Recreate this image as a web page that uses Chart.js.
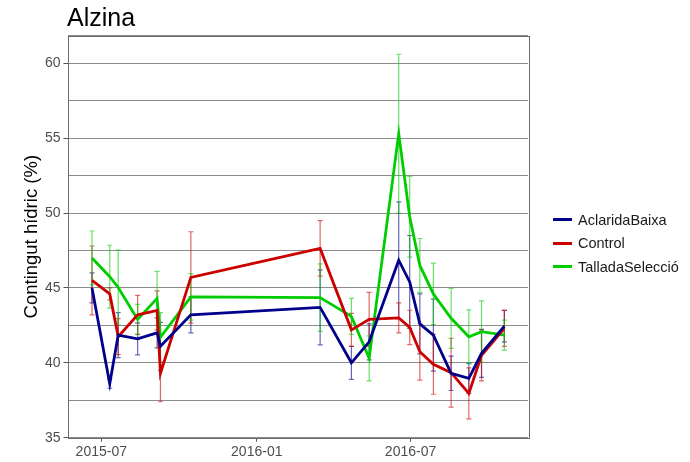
<!DOCTYPE html>
<html>
<head>
<meta charset="utf-8">
<script src="https://cdn.jsdelivr.net/npm/chart.js@4/dist/chart.umd.min.js"></script>
<style>
  html, body { margin: 0; padding: 0; background: #fff; }
  #wrap { position: relative; width: 690px; height: 462px; font-family: 'Liberation Sans', Arial, sans-serif; }
  #titol { position: absolute; left: 67px; top: 3px; font-size: 25px; color: #000; }
  #llegenda { position: absolute; left: 553px; top: 208px; font-size: 14.5px; color: #1a1a1a; }
  .item { display: flex; align-items: center; height: 23.5px; }
  .clau { width: 19px; height: 3px; margin-right: 6px; }
</style>
</head>
<body>
<div id="wrap">
  <canvas id="grafic" width="690" height="462"></canvas>
  <div id="titol">Alzina</div>
  <div id="llegenda"></div>
</div>
<script>
// Dates de mostreig
const dates = ['2015-06-20', '2015-07-11', '2015-07-21', '2015-08-13', '2015-09-05', '2015-09-09', '2015-10-15',
    '2016-03-16', '2016-04-22', '2016-05-13', '2016-06-17', '2016-06-30', '2016-07-12', '2016-07-28',
    '2016-08-18', '2016-09-08', '2016-09-23', '2016-10-20'];

// Tractaments
const tractaments = ['AclaridaBaixa', 'Control', 'TalladaSelecció'];

// Contingut hídric mitjà (%) per tractament
const aclaridaBaixa = [45.0, 38.6, 41.85, 41.6, 42.0, 41.1, 43.2, 43.7, 40.0, 41.4, 46.85, 45.4, 42.6, 41.85, 39.3, 38.96, 40.63, 42.45];
const control = [45.5, 44.6, 41.75, 43.2, 43.5, 39.3, 45.7, 47.64, 42.2, 42.9, 43.0, 42.36, 40.74, 39.9, 39.34, 37.96, 40.5, 42.3];
const talladaSeleccio = [47.0, 45.75, 45.03, 42.9, 44.3, 41.7, 44.4, 44.35, 43.1, 40.3, 55.3, 49.75, 46.5, 44.6, 42.97, 41.74, 42.08, 41.85];

// Barres d'error (desviació) per tractament
const errAclarida = [1.0, 0.3, 1.5, 1.07, 1.0, 1.6, 1.2, 2.5, 1.1, 1.2, 3.9, 3.1, 2.0, 2.4, 1.15, 1.0, 1.6, 1.05];
const errControl = [2.3, 0.4, 1.2, 1.3, 1.3, 1.9, 3.05, 1.85, 1.1, 1.8, 1.0, 1.15, 1.9, 2.0, 2.3, 1.7, 1.7, 1.2];
const errTallada = [1.8, 2.1, 2.5, 1.0, 1.8, 1.65, 1.55, 2.25, 1.2, 1.5, 5.3, 2.7, 1.8, 2.05, 2.0, 1.8, 2.05, 1.0];

// Etiquetes dels eixos
const xTickLabels = ['2015-07', '2016-01', '2016-07'];
const yTickLabels = [35, 40, 45, 50, 55, 60];
const xLimits = ['2015-05-22', '2016-11-17'];
const yLimits = [35, 61.84];

const BLAU = '#00008B'; const VERMELL = '#CD0000'; const VERD = '#00CD00';
const colors = [BLAU, VERMELL, VERD];
const colorsErr = ['rgba(0,0,139,0.6)', 'rgba(205,0,0,0.6)', 'rgba(0,205,0,0.6)'];
const FONT = "'Liberation Sans', Arial, sans-serif";

// Dies des del 2015-07-01
function dia(s) { return (Date.parse(s) - Date.parse('2015-07-01')) / 86400000; }

const series = [aclaridaBaixa, control, talladaSeleccio];
const errors = [errAclarida, errControl, errTallada];

// Barres d'error dibuixades amb les escales del gràfic
const errorBars = {
    id: 'errorBars',
    beforeDatasetsDraw(chart) {
        const { ctx, scales: { x, y } } = chart;
        ctx.save();
        ctx.lineWidth = 1.2;
        series.forEach((vals, s) => {
            ctx.strokeStyle = colorsErr[s];
            vals.forEach((v, i) => {
                const px = x.getPixelForValue(dia(dates[i]));
                const top = y.getPixelForValue(v + errors[s][i]);
                const bot = y.getPixelForValue(v - errors[s][i]);
                ctx.beginPath();
                ctx.moveTo(px, top); ctx.lineTo(px, bot);
                ctx.moveTo(px - 2.5, top); ctx.lineTo(px + 2.5, top);
                ctx.moveTo(px - 2.5, bot); ctx.lineTo(px + 2.5, bot);
                ctx.stroke();
            });
        });
        ctx.restore();
    }
};

// Vora del panell
const panelBorder = {
    id: 'panelBorder',
    afterDatasetsDraw(chart) {
        const { ctx, chartArea: a } = chart;
        ctx.save();
        ctx.strokeStyle = '#6b6b6b';
        ctx.lineWidth = 1;
        ctx.strokeRect(Math.round(a.left) + 0.5, Math.round(a.top) + 0.5, Math.round(a.right - a.left), Math.round(a.bottom - a.top));
        ctx.restore();
    }
};

new Chart(document.getElementById('grafic'), {
    type: 'line',
    data: {
        datasets: series.map((vals, s) => ({
            label: tractaments[s],
            data: vals.map((v, i) => ({ x: dia(dates[i]), y: v })),
            borderColor: colors[s],
            backgroundColor: colors[s],
            borderWidth: 2.8,
            pointRadius: 0,
            tension: 0
        }))
    },
    options: {
        responsive: false,
        animation: false,
        layout: { padding: { top: 35.7, right: 162, bottom: 0, left: 0 } },
        plugins: { legend: { display: false }, tooltip: { enabled: false } },
        scales: {
            x: {
                type: 'linear',
                min: dia(xLimits[0]),
                max: dia(xLimits[1]),
                afterBuildTicks: (scale) => { scale.ticks = xTickLabels.map(l => ({ value: dia(l + '-01') })); },
                afterFit: (scale) => { scale.height = 24.3; },
                ticks: {
                    autoSkip: false, maxRotation: 0, padding: 2,
                    color: '#4d4d4d', font: { family: FONT, size: 14 },
                    callback: (v) => { const i = xTickLabels.findIndex(l => dia(l + '-01') === v); return i >= 0 ? xTickLabels[i] : ''; }
                },
                grid: { drawOnChartArea: false, drawTicks: true, tickLength: 4, tickColor: '#555' },
                border: { display: false }
            },
            y: {
                min: yLimits[0],
                max: yLimits[1],
                afterFit: (scale) => { scale.width = 67.5; },
                ticks: {
                    stepSize: 2.5, color: '#4d4d4d', padding: 3,
                    font: { family: FONT, size: 14 },
                    callback: (v) => yTickLabels.includes(v) ? v : ''
                },
                grid: {
                    color: '#8c8c8c', lineWidth: 1, tickLength: 4,
                    tickColor: (c) => yTickLabels.includes(c.tick && c.tick.value) ? '#555' : 'rgba(0,0,0,0)'
                },
                border: { display: false },
                title: { display: true, text: 'Contingut hídric (%)', color: '#000', font: { family: FONT, size: 18.5 }, padding: { top: 21, bottom: 0 } }
            }
        }
    },
    plugins: [errorBars, panelBorder]
});

// Llegenda
const llegenda = document.getElementById('llegenda');
tractaments.forEach((t, s) => {
    const item = document.createElement('div');
    item.className = 'item';
    item.innerHTML = '<span class="clau" style="background:' + colors[s] + '"></span><span>' + t + '</span>';
    llegenda.appendChild(item);
});
</script>
</body>
</html>
